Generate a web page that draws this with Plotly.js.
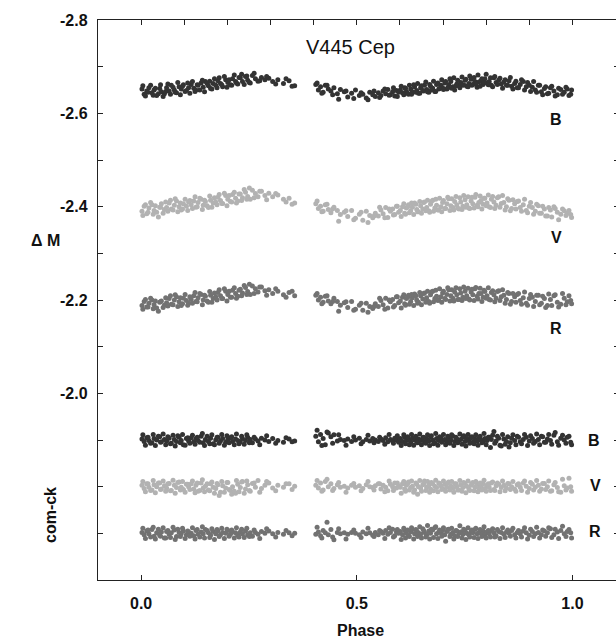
<!DOCTYPE html>
<html>
<head>
<meta charset="utf-8">
<script src="https://cdn.plot.ly/plotly-3.0.1.min.js"></script>
<style>html,body{margin:0;padding:0;overflow:hidden;background:#fff;}#chart{width:620px;height:640px;}</style>
</head>
<body>
<div id="chart"></div>
<script>
// Phases of observation set 1
const phase1 = [
0.002,0.007,0.013,0.018,0.025,0.030,0.036,0.043,0.047,0.054,
0.059,0.065,0.070,0.077,0.082,0.088,0.093,0.098,0.105,0.110,
0.116,0.122,0.127,0.132,0.139,0.144,0.149,0.156,0.161,0.167,
0.173,0.178,0.184,0.189,0.196,0.201,0.207,0.212,0.219,0.224,
0.230,0.235,0.242,0.247,0.253,0.258,0.265,0.271,0.279,0.287,
0.296,0.305,0.317,0.330,0.343,0.356,
0.405,0.411,0.416,0.422,0.427,0.434,0.440,0.447,0.455,0.462,
0.471,0.479,0.488,0.497,0.506,0.514,0.522,0.530,0.537,0.543,
0.550,0.556,0.561,0.567,0.572,0.578,0.583,0.588,0.592,0.597,
0.601,0.606,0.611,0.615,0.620,0.625,0.629,0.634,0.639,0.643,
0.648,0.653,0.657,0.662,0.667,0.671,0.676,0.681,0.685,0.690,
0.695,0.699,0.704,0.709,0.713,0.718,0.723,0.727,0.732,0.737,
0.741,0.746,0.751,0.755,0.760,0.765,0.769,0.774,0.779,0.783,
0.788,0.793,0.797,0.802,0.807,0.812,0.818,0.823,0.829,0.835,
0.841,0.847,0.853,0.859,0.866,0.872,0.879,0.886,0.893,0.900,
0.907,0.914,0.921,0.928,0.935,0.942,0.949,0.957,0.965,0.973,
0.981,0.988,0.996];
// Phases of observation set 2
const phase2 = [
0.004,0.010,0.016,0.022,0.028,0.033,0.040,0.045,0.051,0.057,
0.062,0.068,0.074,0.079,0.085,0.091,0.096,0.102,0.108,0.113,
0.119,0.125,0.130,0.136,0.142,0.147,0.153,0.159,0.164,0.170,
0.176,0.181,0.187,0.193,0.199,0.204,0.210,0.216,0.221,0.227,
0.233,0.239,0.245,0.251,0.262,0.275,0.291,0.312,0.336,0.350,
0.408,0.419,0.431,0.444,0.458,0.475,0.493,0.510,0.526,0.540,
0.553,0.565,0.575,0.585,0.594,0.603,0.609,0.613,0.618,0.622,
0.627,0.632,0.637,0.641,0.646,0.650,0.655,0.660,0.664,0.669,
0.673,0.678,0.683,0.688,0.692,0.697,0.701,0.706,0.711,0.716,
0.720,0.725,0.730,0.734,0.739,0.744,0.748,0.753,0.758,0.762,
0.767,0.772,0.776,0.781,0.786,0.790,0.795,0.800,0.805,0.810,
0.815,0.820,0.826,0.832,0.838,0.844,0.850,0.856,0.862,0.869,
0.875,0.882,0.889,0.896,0.903,0.910,0.917,0.924,0.931,0.938,
0.945,0.952,0.960,0.968,0.977,0.985,0.992,0.998];

// V445 Cep minus comparison (delta M), set 1
const varB1 = [
-2.652,-2.641,-2.648,-2.655,-2.644,-2.650,-2.638,-2.653,-2.646,-2.642,
-2.655,-2.648,-2.660,-2.650,-2.644,-2.657,-2.652,-2.661,-2.649,-2.655,
-2.662,-2.654,-2.650,-2.660,-2.665,-2.656,-2.668,-2.659,-2.653,-2.664,
-2.660,-2.670,-2.664,-2.657,-2.672,-2.666,-2.661,-2.674,-2.668,-2.663,
-2.676,-2.668,-2.679,-2.671,-2.665,-2.681,-2.674,-2.669,-2.677,-2.672,
-2.675,-2.668,-2.672,-2.664,-2.670,-2.659,
-2.662,-2.650,-2.657,-2.645,-2.660,-2.652,-2.648,-2.655,-2.642,-2.651,
-2.646,-2.635,-2.643,-2.650,-2.638,-2.641,-2.633,-2.645,-2.640,-2.636,
-2.644,-2.638,-2.648,-2.642,-2.651,-2.640,-2.646,-2.637,-2.649,-2.645,
-2.650,-2.644,-2.655,-2.647,-2.641,-2.652,-2.646,-2.657,-2.649,-2.643,
-2.655,-2.649,-2.660,-2.651,-2.645,-2.658,-2.654,-2.647,-2.662,-2.652,
-2.660,-2.655,-2.665,-2.652,-2.661,-2.668,-2.657,-2.650,-2.663,-2.659,
-2.666,-2.660,-2.671,-2.658,-2.664,-2.673,-2.662,-2.668,-2.656,-2.667,
-2.670,-2.662,-2.674,-2.665,-2.668,-2.660,-2.676,-2.666,-2.671,-2.663,
-2.667,-2.660,-2.670,-2.658,-2.664,-2.655,-2.662,-2.668,-2.657,-2.660,
-2.656,-2.650,-2.660,-2.646,-2.653,-2.642,-2.655,-2.648,-2.640,-2.651,
-2.645,-2.652,-2.641];
const varV1 = [
-2.390,-2.401,-2.385,-2.397,-2.404,-2.392,-2.388,-2.399,-2.406,-2.394,
-2.398,-2.408,-2.395,-2.403,-2.412,-2.400,-2.393,-2.406,-2.401,-2.410,
-2.404,-2.412,-2.399,-2.409,-2.416,-2.403,-2.411,-2.398,-2.414,-2.408,
-2.410,-2.420,-2.413,-2.407,-2.424,-2.416,-2.411,-2.426,-2.418,-2.412,
-2.427,-2.419,-2.431,-2.422,-2.416,-2.435,-2.428,-2.421,-2.433,-2.424,
-2.429,-2.421,-2.425,-2.416,-2.418,-2.408,
-2.406,-2.396,-2.401,-2.390,-2.404,-2.394,-2.387,-2.399,-2.392,-2.383,
-2.388,-2.379,-2.392,-2.375,-2.384,-2.371,-2.390,-2.381,-2.376,-2.386,
-2.380,-2.393,-2.385,-2.398,-2.377,-2.390,-2.395,-2.383,-2.401,-2.388,
-2.392,-2.400,-2.386,-2.397,-2.404,-2.391,-2.399,-2.408,-2.394,-2.389,
-2.402,-2.395,-2.410,-2.398,-2.391,-2.405,-2.414,-2.397,-2.403,-2.393,
-2.400,-2.409,-2.396,-2.406,-2.417,-2.402,-2.398,-2.411,-2.404,-2.395,
-2.410,-2.401,-2.415,-2.404,-2.397,-2.412,-2.406,-2.420,-2.403,-2.409,
-2.413,-2.405,-2.418,-2.408,-2.400,-2.416,-2.410,-2.403,-2.421,-2.407,
-2.409,-2.400,-2.414,-2.396,-2.406,-2.411,-2.398,-2.404,-2.392,-2.401,
-2.398,-2.390,-2.402,-2.386,-2.395,-2.380,-2.393,-2.400,-2.388,-2.384,
-2.391,-2.386,-2.383];
const varR1 = [
-2.188,-2.197,-2.185,-2.193,-2.200,-2.190,-2.183,-2.195,-2.198,-2.189,
-2.194,-2.203,-2.191,-2.200,-2.207,-2.196,-2.188,-2.204,-2.199,-2.193,
-2.201,-2.209,-2.197,-2.205,-2.212,-2.200,-2.208,-2.195,-2.210,-2.203,
-2.207,-2.216,-2.209,-2.203,-2.219,-2.212,-2.206,-2.221,-2.214,-2.208,
-2.223,-2.215,-2.227,-2.218,-2.212,-2.230,-2.224,-2.217,-2.228,-2.220,
-2.222,-2.214,-2.219,-2.211,-2.216,-2.209,
-2.210,-2.200,-2.206,-2.195,-2.208,-2.198,-2.192,-2.204,-2.197,-2.189,
-2.194,-2.184,-2.197,-2.180,-2.189,-2.178,-2.193,-2.186,-2.182,-2.192,
-2.186,-2.199,-2.190,-2.204,-2.183,-2.196,-2.201,-2.188,-2.207,-2.194,
-2.198,-2.206,-2.192,-2.203,-2.210,-2.197,-2.205,-2.213,-2.200,-2.195,
-2.209,-2.202,-2.215,-2.205,-2.197,-2.211,-2.219,-2.203,-2.208,-2.200,
-2.207,-2.215,-2.203,-2.212,-2.222,-2.209,-2.204,-2.217,-2.211,-2.201,
-2.215,-2.206,-2.219,-2.209,-2.202,-2.217,-2.211,-2.224,-2.208,-2.214,
-2.214,-2.206,-2.218,-2.209,-2.201,-2.216,-2.211,-2.204,-2.220,-2.207,
-2.210,-2.201,-2.214,-2.197,-2.207,-2.212,-2.199,-2.205,-2.193,-2.203,
-2.206,-2.197,-2.210,-2.193,-2.203,-2.188,-2.201,-2.209,-2.195,-2.191,
-2.204,-2.196,-2.199];

// set 2
const varB2 = [
-2.659,-2.637,-2.645,-2.660,-2.639,-2.654,-2.642,-2.661,-2.636,-2.647,
-2.663,-2.641,-2.656,-2.645,-2.666,-2.640,-2.658,-2.647,-2.665,-2.643,
-2.668,-2.647,-2.661,-2.650,-2.671,-2.646,-2.664,-2.669,-2.652,-2.674,
-2.655,-2.676,-2.661,-2.679,-2.656,-2.672,-2.660,-2.682,-2.665,-2.677,
-2.684,-2.662,-2.680,-2.666,-2.686,-2.670,-2.679,-2.663,-2.674,-2.658,
-2.665,-2.643,-2.660,-2.640,-2.630,-2.648,-2.632,-2.644,-2.629,-2.648,
-2.634,-2.652,-2.639,-2.655,-2.636,-2.658,-2.640,-2.654,-2.643,-2.660,
-2.641,-2.661,-2.645,-2.664,-2.643,-2.659,-2.648,-2.667,-2.646,-2.662,
-2.650,-2.669,-2.647,-2.665,-2.653,-2.672,-2.651,-2.668,-2.655,-2.674,
-2.654,-2.676,-2.659,-2.671,-2.655,-2.678,-2.661,-2.673,-2.657,-2.680,
-2.660,-2.677,-2.663,-2.682,-2.658,-2.674,-2.666,-2.684,-2.661,-2.676,
-2.657,-2.679,-2.662,-2.675,-2.654,-2.672,-2.660,-2.677,-2.652,-2.669,
-2.655,-2.672,-2.650,-2.666,-2.647,-2.668,-2.645,-2.660,-2.640,-2.657,
-2.643,-2.658,-2.637,-2.654,-2.641,-2.656,-2.638,-2.650];
const varV2 = [
-2.381,-2.404,-2.388,-2.409,-2.384,-2.402,-2.378,-2.399,-2.386,-2.410,
-2.390,-2.414,-2.393,-2.417,-2.389,-2.408,-2.395,-2.416,-2.392,-2.413,
-2.396,-2.421,-2.400,-2.418,-2.394,-2.414,-2.402,-2.423,-2.399,-2.419,
-2.404,-2.426,-2.407,-2.429,-2.402,-2.424,-2.410,-2.431,-2.408,-2.427,
-2.413,-2.437,-2.416,-2.440,-2.419,-2.433,-2.415,-2.428,-2.410,-2.405,
-2.412,-2.389,-2.405,-2.395,-2.369,-2.391,-2.372,-2.388,-2.366,-2.380,
-2.399,-2.376,-2.395,-2.382,-2.401,-2.379,-2.406,-2.384,-2.400,-2.387,
-2.408,-2.383,-2.405,-2.389,-2.411,-2.386,-2.409,-2.391,-2.414,-2.388,
-2.411,-2.390,-2.416,-2.393,-2.418,-2.389,-2.413,-2.396,-2.420,-2.392,
-2.417,-2.393,-2.422,-2.397,-2.419,-2.394,-2.424,-2.399,-2.421,-2.396,
-2.420,-2.397,-2.426,-2.400,-2.423,-2.395,-2.418,-2.402,-2.425,-2.398,
-2.422,-2.396,-2.419,-2.399,-2.424,-2.393,-2.417,-2.391,-2.415,-2.395,
-2.412,-2.390,-2.416,-2.387,-2.409,-2.384,-2.405,-2.386,-2.401,-2.380,
-2.398,-2.378,-2.396,-2.372,-2.395,-2.381,-2.392,-2.377];
const varR2 = [
-2.180,-2.201,-2.185,-2.204,-2.181,-2.198,-2.176,-2.196,-2.184,-2.205,
-2.187,-2.209,-2.190,-2.211,-2.186,-2.205,-2.192,-2.212,-2.189,-2.207,
-2.193,-2.216,-2.196,-2.214,-2.190,-2.210,-2.198,-2.218,-2.195,-2.215,
-2.200,-2.222,-2.203,-2.224,-2.198,-2.219,-2.206,-2.226,-2.204,-2.221,
-2.209,-2.231,-2.212,-2.234,-2.214,-2.228,-2.210,-2.224,-2.206,-2.219,
-2.214,-2.192,-2.209,-2.197,-2.176,-2.196,-2.178,-2.193,-2.174,-2.186,
-2.204,-2.180,-2.200,-2.185,-2.207,-2.183,-2.211,-2.189,-2.206,-2.191,
-2.212,-2.188,-2.209,-2.193,-2.216,-2.190,-2.214,-2.195,-2.219,-2.193,
-2.217,-2.196,-2.221,-2.199,-2.224,-2.195,-2.219,-2.201,-2.226,-2.198,
-2.222,-2.198,-2.226,-2.201,-2.224,-2.199,-2.228,-2.203,-2.225,-2.200,
-2.223,-2.199,-2.227,-2.202,-2.225,-2.197,-2.221,-2.204,-2.226,-2.200,
-2.220,-2.196,-2.218,-2.199,-2.222,-2.193,-2.216,-2.191,-2.214,-2.195,
-2.214,-2.191,-2.217,-2.189,-2.212,-2.186,-2.210,-2.190,-2.208,-2.184,
-2.213,-2.188,-2.211,-2.185,-2.214,-2.190,-2.209,-2.192];

// comparison minus check, set 1
const ckB1 = [
-1.902,-1.897,-1.905,-1.899,-1.894,-1.903,-1.900,-1.907,-1.896,-1.901,
-1.898,-1.904,-1.893,-1.901,-1.897,-1.906,-1.899,-1.890,-1.903,-1.898,
-1.905,-1.896,-1.902,-1.899,-1.908,-1.894,-1.901,-1.897,-1.904,-1.892,
-1.900,-1.906,-1.898,-1.903,-1.895,-1.901,-1.905,-1.897,-1.902,-1.899,
-1.896,-1.903,-1.899,-1.906,-1.901,-1.894,-1.902,-1.898,-1.904,-1.900,
-1.897,-1.903,-1.899,-1.895,-1.902,-1.898,
-1.908,-1.896,-1.912,-1.903,-1.890,-1.915,-1.907,-1.911,-1.898,-1.901,
-1.899,-1.902,-1.897,-1.900,-1.904,-1.896,-1.901,-1.898,-1.903,-1.900,
-1.897,-1.902,-1.899,-1.905,-1.896,-1.901,-1.898,-1.904,-1.900,-1.895,
-1.903,-1.897,-1.906,-1.899,-1.901,-1.895,-1.904,-1.900,-1.897,-1.902,
-1.899,-1.905,-1.896,-1.902,-1.898,-1.907,-1.900,-1.894,-1.903,-1.899,
-1.905,-1.898,-1.901,-1.896,-1.904,-1.900,-1.908,-1.897,-1.902,-1.899,
-1.901,-1.906,-1.897,-1.903,-1.899,-1.905,-1.895,-1.902,-1.898,-1.904,
-1.900,-1.896,-1.903,-1.899,-1.906,-1.901,-1.918,-1.898,-1.904,-1.887,
-1.902,-1.897,-1.885,-1.904,-1.899,-1.908,-1.896,-1.901,-1.906,-1.898,
-1.903,-1.897,-1.901,-1.908,-1.895,-1.902,-1.899,-1.910,-1.896,-1.904,
-1.900,-1.906,-1.895];
const ckV1 = [
-1.803,-1.796,-1.806,-1.799,-1.793,-1.804,-1.800,-1.808,-1.795,-1.802,
-1.797,-1.807,-1.792,-1.803,-1.798,-1.810,-1.799,-1.794,-1.805,-1.800,
-1.806,-1.795,-1.803,-1.790,-1.808,-1.797,-1.801,-1.793,-1.806,-1.799,
-1.796,-1.804,-1.788,-1.802,-1.797,-1.809,-1.792,-1.800,-1.786,-1.805,
-1.798,-1.811,-1.795,-1.804,-1.790,-1.807,-1.799,-1.813,-1.796,-1.803,
-1.808,-1.797,-1.803,-1.799,-1.806,-1.801,
-1.803,-1.797,-1.808,-1.793,-1.811,-1.800,-1.806,-1.796,-1.804,-1.799,
-1.801,-1.797,-1.803,-1.799,-1.802,-1.796,-1.804,-1.800,-1.798,-1.802,
-1.806,-1.795,-1.803,-1.799,-1.791,-1.805,-1.800,-1.808,-1.797,-1.802,
-1.799,-1.806,-1.795,-1.803,-1.810,-1.798,-1.801,-1.793,-1.805,-1.800,
-1.797,-1.804,-1.812,-1.799,-1.803,-1.795,-1.806,-1.801,-1.798,-1.808,
-1.802,-1.796,-1.805,-1.799,-1.810,-1.801,-1.797,-1.806,-1.800,-1.793,
-1.804,-1.798,-1.807,-1.801,-1.795,-1.803,-1.809,-1.799,-1.805,-1.797,
-1.801,-1.806,-1.796,-1.803,-1.799,-1.808,-1.794,-1.802,-1.805,-1.798,
-1.803,-1.797,-1.806,-1.800,-1.795,-1.804,-1.799,-1.808,-1.801,-1.796,
-1.805,-1.799,-1.803,-1.795,-1.807,-1.800,-1.790,-1.804,-1.798,-1.788,
-1.802,-1.797,-1.800];
const ckR1 = [
-1.702,-1.697,-1.705,-1.699,-1.708,-1.694,-1.701,-1.696,-1.703,-1.690,
-1.704,-1.698,-1.701,-1.707,-1.693,-1.702,-1.699,-1.705,-1.697,-1.703,
-1.700,-1.695,-1.706,-1.698,-1.703,-1.699,-1.708,-1.701,-1.696,-1.704,
-1.699,-1.705,-1.697,-1.702,-1.700,-1.706,-1.698,-1.703,-1.701,-1.696,
-1.703,-1.699,-1.705,-1.697,-1.701,-1.694,-1.702,-1.698,-1.704,-1.700,
-1.705,-1.699,-1.702,-1.698,-1.701,-1.700,
-1.698,-1.703,-1.695,-1.706,-1.701,-1.697,-1.708,-1.686,-1.702,-1.699,
-1.701,-1.698,-1.702,-1.700,-1.697,-1.703,-1.699,-1.701,-1.696,-1.702,
-1.697,-1.704,-1.700,-1.706,-1.698,-1.702,-1.709,-1.695,-1.703,-1.700,
-1.704,-1.697,-1.706,-1.700,-1.695,-1.703,-1.708,-1.699,-1.705,-1.701,
-1.698,-1.710,-1.702,-1.696,-1.705,-1.700,-1.707,-1.712,-1.699,-1.703,
-1.701,-1.706,-1.697,-1.704,-1.709,-1.698,-1.702,-1.695,-1.705,-1.700,
-1.703,-1.698,-1.706,-1.700,-1.697,-1.704,-1.701,-1.708,-1.699,-1.702,
-1.700,-1.705,-1.697,-1.703,-1.699,-1.706,-1.701,-1.695,-1.704,-1.702,
-1.698,-1.703,-1.700,-1.706,-1.697,-1.702,-1.699,-1.705,-1.701,-1.696,
-1.704,-1.699,-1.702,-1.697,-1.705,-1.701,-1.710,-1.697,-1.703,-1.706,
-1.699,-1.704,-1.701];

// comparison minus check, set 2
const ckB2 = [
-1.911,-1.889,-1.906,-1.893,-1.912,-1.888,-1.908,-1.895,-1.913,-1.890,
-1.907,-1.892,-1.910,-1.887,-1.909,-1.894,-1.912,-1.889,-1.905,-1.893,
-1.910,-1.891,-1.906,-1.895,-1.914,-1.888,-1.908,-1.892,-1.911,-1.890,
-1.906,-1.893,-1.912,-1.889,-1.909,-1.894,-1.907,-1.890,-1.913,-1.892,
-1.908,-1.891,-1.911,-1.894,-1.906,-1.890,-1.909,-1.893,-1.905,-1.896,
-1.921,-1.888,-1.917,-1.893,-1.911,-1.889,-1.907,-1.892,-1.910,-1.894,
-1.906,-1.891,-1.912,-1.893,-1.909,-1.888,-1.911,-1.892,-1.907,-1.890,
-1.912,-1.889,-1.908,-1.894,-1.913,-1.890,-1.906,-1.893,-1.911,-1.888,
-1.909,-1.892,-1.914,-1.889,-1.907,-1.895,-1.912,-1.890,-1.908,-1.893,
-1.911,-1.888,-1.906,-1.894,-1.913,-1.891,-1.909,-1.887,-1.912,-1.893,
-1.907,-1.892,-1.911,-1.889,-1.908,-1.894,-1.914,-1.890,-1.906,-1.884,
-1.910,-1.893,-1.908,-1.889,-1.912,-1.891,-1.907,-1.894,-1.911,-1.890,
-1.906,-1.892,-1.912,-1.888,-1.909,-1.893,-1.913,-1.890,-1.907,-1.895,
-1.912,-1.891,-1.916,-1.889,-1.910,-1.893,-1.908,-1.890];
const ckV2 = [
-1.811,-1.789,-1.806,-1.792,-1.813,-1.787,-1.808,-1.794,-1.812,-1.790,
-1.806,-1.791,-1.814,-1.786,-1.809,-1.793,-1.811,-1.788,-1.805,-1.794,
-1.812,-1.787,-1.808,-1.792,-1.815,-1.789,-1.806,-1.791,-1.810,-1.786,
-1.807,-1.781,-1.811,-1.788,-1.809,-1.794,-1.784,-1.790,-1.813,-1.789,
-1.810,-1.786,-1.812,-1.792,-1.808,-1.788,-1.811,-1.791,-1.806,-1.794,
-1.813,-1.790,-1.816,-1.792,-1.809,-1.788,-1.807,-1.791,-1.811,-1.793,
-1.806,-1.789,-1.812,-1.792,-1.808,-1.786,-1.811,-1.790,-1.807,-1.793,
-1.812,-1.788,-1.808,-1.784,-1.813,-1.790,-1.806,-1.792,-1.811,-1.788,
-1.809,-1.791,-1.814,-1.789,-1.807,-1.794,-1.812,-1.790,-1.808,-1.793,
-1.811,-1.788,-1.806,-1.793,-1.813,-1.790,-1.809,-1.787,-1.812,-1.792,
-1.807,-1.791,-1.811,-1.789,-1.808,-1.793,-1.814,-1.790,-1.806,-1.792,
-1.810,-1.792,-1.808,-1.789,-1.812,-1.791,-1.807,-1.794,-1.811,-1.790,
-1.806,-1.792,-1.812,-1.788,-1.809,-1.793,-1.813,-1.790,-1.807,-1.794,
-1.812,-1.791,-1.809,-1.789,-1.816,-1.793,-1.818,-1.790];
const ckR2 = [
-1.711,-1.689,-1.707,-1.692,-1.713,-1.688,-1.709,-1.694,-1.712,-1.690,
-1.706,-1.691,-1.713,-1.687,-1.709,-1.693,-1.711,-1.689,-1.705,-1.694,
-1.712,-1.688,-1.708,-1.692,-1.714,-1.690,-1.706,-1.691,-1.710,-1.687,
-1.708,-1.693,-1.711,-1.689,-1.709,-1.694,-1.707,-1.690,-1.712,-1.692,
-1.709,-1.691,-1.711,-1.693,-1.707,-1.689,-1.710,-1.692,-1.706,-1.695,
-1.713,-1.690,-1.724,-1.692,-1.710,-1.688,-1.707,-1.691,-1.711,-1.693,
-1.706,-1.689,-1.712,-1.692,-1.708,-1.687,-1.711,-1.690,-1.707,-1.693,
-1.712,-1.688,-1.708,-1.693,-1.714,-1.690,-1.706,-1.692,-1.717,-1.688,
-1.709,-1.691,-1.714,-1.689,-1.707,-1.694,-1.712,-1.683,-1.708,-1.693,
-1.711,-1.688,-1.706,-1.693,-1.716,-1.690,-1.709,-1.687,-1.712,-1.692,
-1.707,-1.691,-1.711,-1.689,-1.708,-1.693,-1.714,-1.690,-1.706,-1.692,
-1.710,-1.692,-1.708,-1.689,-1.712,-1.691,-1.707,-1.694,-1.711,-1.690,
-1.706,-1.692,-1.712,-1.688,-1.709,-1.693,-1.713,-1.690,-1.707,-1.694,
-1.712,-1.691,-1.709,-1.689,-1.715,-1.693,-1.708,-1.690];

const xTickVals = [0, 0.5, 1.0];
const xTickText = ['0.0', '0.5', '1.0'];
const yTickVals = [-2.8,-2.7,-2.6,-2.5,-2.4,-2.3,-2.2,-2.1,-2.0,-1.9,-1.8,-1.7];
const yTickText = ['-2.8','','-2.6','','-2.4','','-2.2','','-2.0','','',''];
const topTickVals = [0,0.1,0.2,0.3,0.4,0.5,0.6,0.7,0.8,0.9,1.0];

const cB = '#333333', cV = '#b2b2b2', cR = '#727272';
const allPhase = phase1.concat(phase2);
function tr(y1, y2, c) {
  return {x: allPhase, y: y1.concat(y2), type: 'scatter', mode: 'markers',
    marker: {size: 5, color: c, line: {width: 0}}, hoverinfo: 'skip', showlegend: false};
}
const data = [
  tr(varB1, varB2, cB), tr(varV1, varV2, cV), tr(varR1, varR2, cR),
  tr(ckB1, ckB2, cB), tr(ckV1, ckV2, cV), tr(ckR1, ckR2, cR),
  {x: [], y: [], xaxis: 'x2', yaxis: 'y2', type: 'scatter', mode: 'markers', showlegend: false}];

const FONT = 'Liberation Sans, Arial, sans-serif';
const XR = [-0.1, 1.1103], YR = [-1.6, -2.8];
const lab = (txt, x, y) => ({text: txt, x: x, y: y, xref: 'x', yref: 'y', showarrow: false,
  xanchor: 'center', yanchor: 'middle', font: {family: FONT, size: 16, weight: 'bold', color: '#111'}});
const ann = (txt, x, y, size, weight, angle) => ({text: txt, xref: 'paper', yref: 'paper', x: x, y: y,
  showarrow: false, xanchor: 'center', yanchor: 'middle', textangle: angle || 0,
  font: {family: FONT, size: size, weight: weight, color: '#111'}});

const layout = {
  width: 620, height: 640,
  margin: {l: 98, r: 0, t: 20, b: 60},
  paper_bgcolor: '#fff', plot_bgcolor: '#fff',
  font: {family: FONT, color: '#111'},
  xaxis: {range: XR, tickvals: xTickVals, ticktext: xTickText, ticks: 'inside', ticklen: 5,
    tickcolor: '#222', showline: true, linecolor: '#222', linewidth: 1.2, showgrid: false, zeroline: false,
    tickfont: {family: FONT, size: 16, weight: 'bold', color: '#111'}, ticklabelstandoff: 9},
  yaxis: {range: YR, tickvals: yTickVals, ticktext: yTickText, ticks: 'inside', ticklen: 5,
    tickcolor: '#222', showline: true, linecolor: '#222', linewidth: 1.2, showgrid: false, zeroline: false,
    tickfont: {family: FONT, size: 16, weight: 'bold', color: '#111'}, ticklabelstandoff: 6},
  xaxis2: {range: XR, overlaying: 'x', side: 'top', anchor: 'y2', tickvals: topTickVals, ticks: 'inside', ticklen: 5,
    tickcolor: '#222', showticklabels: false, showline: true, linecolor: '#222', linewidth: 1.2,
    showgrid: false, zeroline: false},
  yaxis2: {range: YR, overlaying: 'y', side: 'right', anchor: 'x2', tickvals: yTickVals, ticks: 'inside', ticklen: 6,
    tickcolor: '#222', showticklabels: false, showline: true, linecolor: '#222', linewidth: 1.2,
    showgrid: false, zeroline: false},
  annotations: [
    ann('V445 Cep', 0.483, 0.952, 20, 'normal'),
    ann('Phase', 0.502, -0.0893, 16, 'bold'),
    ann('Δ M', -0.1015, 0.607, 16, 'bold'),
    ann('com-ck', -0.092, 0.116, 16, 'bold', -90),
    lab('B', 0.963, -2.586), lab('V', 0.963, -2.335), lab('R', 0.963, -2.140),
    lab('B', 1.051, -1.900), lab('V', 1.053, -1.803), lab('R', 1.053, -1.704)
  ]
};
Plotly.newPlot('chart', data, layout, {staticPlot: true, displayModeBar: false});
</script>
</body>
</html>
